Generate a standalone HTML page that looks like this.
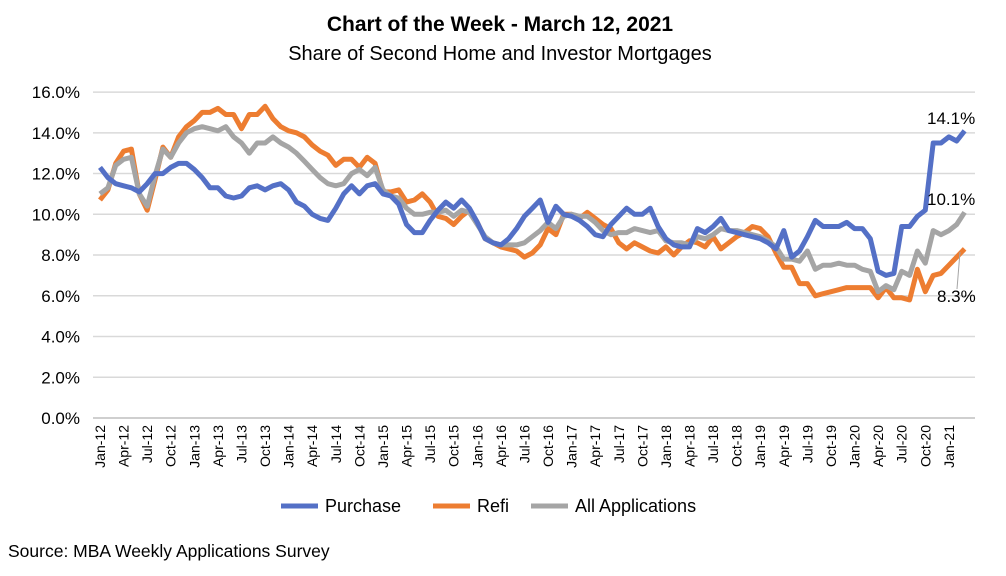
<!DOCTYPE html>
<html><head><meta charset="utf-8">
<style>
body{margin:0;background:#fff;}
svg text{font-family:"Liberation Sans",Arial,sans-serif;}
</style></head>
<body>
<svg width="1006" height="571" xmlns="http://www.w3.org/2000/svg">
<g id="grid"></g>
<g id="yticks"></g>
<g id="xticks"></g>
<g id="lines"></g>
<text x="500" y="31" text-anchor="middle" font-size="21" font-weight="bold" fill="#000">Chart of the Week - March 12, 2021</text>
<text x="500" y="60" text-anchor="middle" font-size="20" fill="#000">Share of Second Home and Investor Mortgages</text>
<text x="927" y="124" font-size="17" fill="#000">14.1%</text>
<text x="927" y="205" font-size="17" fill="#000">10.1%</text>
<line x1="960" y1="252" x2="957" y2="289" stroke="#a5a5a5" stroke-width="1"/>
<text x="937" y="302" font-size="17" fill="#000">8.3%</text>
<g>
<g><line x1="281" y1="506" x2="318" y2="506" stroke="#5470c6" stroke-width="5"/><text x="325" y="512" font-size="18">Purchase</text></g>
<g><line x1="433" y1="506" x2="470" y2="506" stroke="#ed7d31" stroke-width="5"/><text x="477" y="512" font-size="18">Refi</text></g>
<g><line x1="531" y1="506" x2="568" y2="506" stroke="#a5a5a5" stroke-width="5"/><text x="575" y="512" font-size="18">All Applications</text></g>
</g>
<text x="8" y="557" font-size="17.5" fill="#000">Source: MBA Weekly Applications Survey</text>
</svg>
<script>
const monthNames=["Jan","Feb","Mar","Apr","May","Jun","Jul","Aug","Sep","Oct","Nov","Dec"];
const yTicks=[0,2,4,6,8,10,12,14,16];
const purchase=[12.3,11.8,11.5,11.4,11.3,11.1,11.5,12.0,12.0,12.3,12.5,12.5,
12.2,11.8,11.3,11.3,10.9,10.8,10.9,11.3,11.4,11.2,11.4,11.5,
11.2,10.6,10.4,10.0,9.8,9.7,10.3,11.0,11.4,11.0,11.4,11.5,
11.0,10.9,10.5,9.5,9.1,9.1,9.7,10.2,10.6,10.3,10.7,10.3,
9.6,8.8,8.6,8.5,8.8,9.3,9.9,10.3,10.7,9.6,10.4,10.0,
9.9,9.7,9.4,9.0,8.9,9.5,9.9,10.3,10.0,10.0,10.3,9.4,
8.8,8.5,8.4,8.4,9.3,9.1,9.4,9.8,9.2,9.1,9.0,8.9,
8.8,8.6,8.3,9.2,7.9,8.2,8.9,9.7,9.4,9.4,9.4,9.6,
9.3,9.3,8.8,7.2,7.0,7.1,9.4,9.4,9.9,10.2,13.5,13.5,
13.8,13.6,14.1];
const refi=[10.7,11.2,12.5,13.1,13.2,11.0,10.2,11.7,13.3,12.8,13.8,14.3,
14.6,15.0,15.0,15.2,14.9,14.9,14.2,14.9,14.9,15.3,14.7,14.3,
14.1,14.0,13.8,13.4,13.1,12.9,12.4,12.7,12.7,12.3,12.8,12.5,
11.1,11.1,11.2,10.6,10.7,11.0,10.6,9.9,9.8,9.5,9.9,10.2,
9.6,8.8,8.6,8.4,8.3,8.2,7.9,8.1,8.5,9.3,9.0,10.0,
10.0,9.8,10.1,9.8,9.5,9.3,8.6,8.3,8.6,8.4,8.2,8.1,
8.4,8.0,8.4,8.7,8.6,8.4,8.9,8.3,8.6,8.9,9.1,9.4,
9.3,8.9,8.1,7.4,7.4,6.6,6.6,6.0,6.1,6.2,6.3,6.4,
6.4,6.4,6.4,5.9,6.4,5.9,5.9,5.8,7.3,6.2,7.0,7.1,
7.5,7.9,8.3];
const allApps=[11.0,11.3,12.4,12.7,12.8,11.0,10.4,11.9,13.2,12.8,13.5,14.0,
14.2,14.3,14.2,14.1,14.3,13.8,13.5,13.0,13.5,13.5,13.8,13.5,
13.3,13.0,12.6,12.2,11.8,11.5,11.4,11.5,12.0,12.2,11.9,12.3,
11.2,10.9,10.8,10.3,10.0,10.0,10.1,10.1,10.2,9.9,10.2,10.1,
9.5,8.9,8.6,8.5,8.5,8.5,8.6,8.9,9.2,9.6,9.3,9.9,
10.0,9.9,9.9,9.6,9.2,9.0,9.1,9.1,9.3,9.2,9.1,9.2,
8.7,8.6,8.6,8.5,8.9,8.8,9.0,9.3,9.2,9.2,9.1,9.0,
8.9,8.7,8.4,7.8,7.8,7.7,8.2,7.3,7.5,7.5,7.6,7.5,
7.5,7.3,7.2,6.2,6.5,6.3,7.2,7.0,8.2,7.6,9.2,9.0,
9.2,9.5,10.1];
const NS="http://www.w3.org/2000/svg";
const x0=100,dx=7.86,yBase=418,yPer=20.37;
function xs(i){return x0+i*dx;}
function ys(v){return yBase-v*yPer;}
const grid=document.getElementById('grid'),yt=document.getElementById('yticks'),xt=document.getElementById('xticks'),lines=document.getElementById('lines');
yTicks.forEach(t=>{
 const l=document.createElementNS(NS,'line');
 l.setAttribute('x1',93);l.setAttribute('x2',975);l.setAttribute('y1',ys(t));l.setAttribute('y2',ys(t));
 l.setAttribute('stroke',t===0?'#bfbfbf':'#d9d9d9');l.setAttribute('stroke-width',1.5);
 
 
 grid.appendChild(l);
 const tx=document.createElementNS(NS,'text');
 tx.setAttribute('x',80);tx.setAttribute('y',ys(t)+6);tx.setAttribute('text-anchor','end');tx.setAttribute('font-size','17');
 tx.textContent=t.toFixed(1)+'%';
 
 
 yt.appendChild(tx);
});
for(let i=0;i<purchase.length;i+=3){
 const yr=12+Math.floor(i/12);
 const tx=document.createElementNS(NS,'text');
 const x=xs(i)+5;
 tx.setAttribute('transform','translate('+x+',425) rotate(-90)');
 tx.setAttribute('text-anchor','end');tx.setAttribute('font-size','14');
 tx.textContent=monthNames[i%12]+'-'+yr;
 
 
 xt.appendChild(tx);
}
function draw(arr,color,name){
 const p=document.createElementNS(NS,'polyline');
 p.setAttribute('points',arr.map((v,i)=>xs(i).toFixed(1)+','+ys(v).toFixed(1)).join(' '));
 p.setAttribute('fill','none');p.setAttribute('stroke',color);p.setAttribute('stroke-width',5);p.setAttribute('stroke-linejoin','round');
 
 
 lines.appendChild(p);
}
draw(refi,'#ed7d31','refi-line');
draw(allApps,'#a5a5a5','all-applications-line');
draw(purchase,'#5470c6','purchase-line');
</script>
</body></html>
